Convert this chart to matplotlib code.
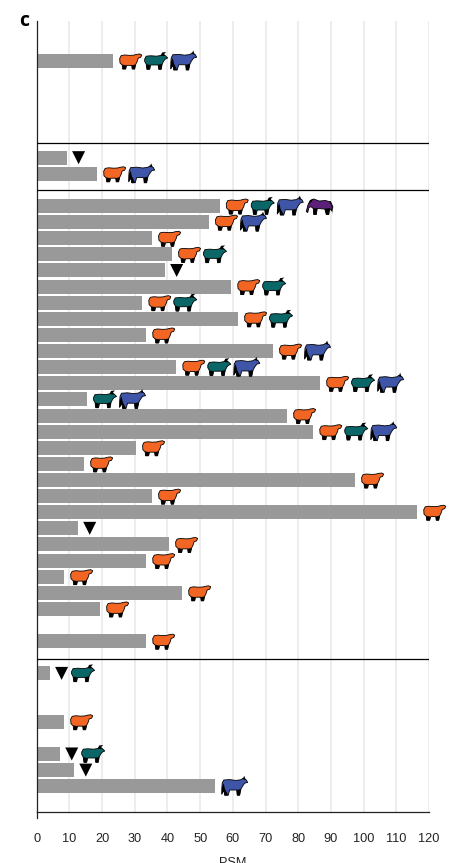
#!/usr/bin/env python3
import matplotlib
matplotlib.use("Agg")
import matplotlib.pyplot as plt
from matplotlib.patches import PathPatch
from matplotlib.path import Path
from matplotlib.transforms import Affine2D, ScaledTranslation

plt.rcParams['font.family'] = ['Liberation Sans', 'DejaVu Sans']

# row number on the y axis, PSM count, species found (S sheep, G goat, C cow, H horse, v = none)
rows = [0, 6, 7, 9, 10, 11, 12, 13, 14, 15, 16, 17, 18, 19, 20, 21, 22, 23,
        24, 25, 26, 27, 28, 29, 30, 31, 32, 33, 34, 36, 38, 41, 43, 44, 45]
psm = [23.4, 9.3, 18.5, 56, 52.7, 35.3, 41.4, 39.3, 59.5, 32.3, 61.6, 33.5,
       72.3, 42.7, 86.7, 15.4, 76.6, 84.6, 30.4, 14.5, 97.4, 35.3, 116.4,
       12.7, 40.5, 33.5, 8.4, 44.5, 19.4, 33.5, 4.1, 8.4, 7.2, 11.5, 54.6]
species = ["SGC", "v", "SC", "SGCH", "SC", "S", "SG", "v", "SG", "SG", "SG", "S",
           "SC", "SGC", "SGC", "GC", "S", "SGC", "S", "S", "S", "S", "S",
           "v", "S", "S", "S", "S", "S", "S", "vG", "S", "vG", "v", "C"]
# bars in these rows start a little right of the axis line
inset_rows = [7, 10, 11, 12, 13, 16, 19, 20, 21, 22, 23, 24, 27, 29, 30, 43, 44]
separators = [5.1, 8, 37.1]
x_ticks = list(range(0, 130, 10))

colors = {'S': '#f26522', 'G': '#0b6767', 'C': '#3f55a8', 'H': '#5c2078'}

# silhouettes in pixels, origin at the left middle of the icon, (body, dark legs)
sheep_body = [(0, 2.5), (1.5, 5.4), (5, 6), (10, 5.6), (14, 5.8), (17, 6.6), (20, 7), (22, 6),
              (21, 3.6), (18.5, 2.8), (17.5, -0.5), (16, -3.5), (15, -8), (12.5, -8),
              (12, -4.4), (7, -4.4), (6, -8), (3, -8), (2.5, -4), (0.3, -2)]
sheep_legs = [[(2.5, -3.6), (6.6, -4.4), (6, -8.3), (3, -8.3)],
              [(12, -4.4), (16, -3.4), (15, -8.3), (12.5, -8.3)]]
goat_body = [(0, 2), (1.5, 4.8), (6, 5.2), (12, 4.8), (15.5, 5.4), (18, 6.4), (20.5, 5.4),
             (23, 3), (20.5, 1.8), (19, 0), (17.5, -3), (16.5, -8.3), (14, -8.3),
             (13.5, -4), (6, -4), (5, -8.3), (2.2, -8.3), (1.5, -3.2), (0, -0.5)]
goat_legs = [[(1.6, -3.2), (5.4, -4), (5, -8.6), (2.2, -8.6)],
             [(13.5, -3.8), (17.5, -2.8), (16.5, -8.6), (14, -8.6)],
             [(16, 5.5), (17.5, 8.5), (21.5, 9), (19.5, 7), (20.5, 5), (18, 5)]]
cow_body = [(0.5, 3), (2, 6.2), (8, 6.6), (14, 5.8), (19, 6.4), (21.5, 8), (24.5, 6.4),
            (26, 3.8), (23, 3), (20.8, 0), (19.2, -3), (18, -9), (15.5, -9),
            (15, -3.8), (8, -3.8), (6.5, -9), (3, -9), (2.5, -4), (0, -8), (0.2, -1)]
cow_legs = [[(0, -8), (0.3, -1), (2, 3), (3.2, -2.5), (6.6, -9.2), (2.8, -9.2), (2.4, -4.5)],
            [(15, -3.8), (19.3, -2.8), (18, -9.2), (15.5, -9.2)],
            [(21, 7), (22.5, 10.5), (24, 6.5)]]
horse_body = [(0, -5.5), (1.5, 0.5), (4, 5.5), (7.5, 7), (13, 5), (19, 5.5), (23, 4.5), (25.5, 0.5),
              (25.5, -5), (23.5, -2.5), (22.5, -8.5), (20, -8.5), (18.5, -3),
              (11, -2.5), (10, -8.5), (7.5, -8.5), (7, -2.5), (4.5, -0.5), (2.5, -2), (1.5, -6.5)]
horse_legs = [[(7.5, -8.8), (10, -8.8), (11, -2.3), (7, -2.3)],
              [(20, -8.8), (22.5, -8.8), (23.5, -2), (18.5, -2.8)],
              [(26, -8), (25.8, 0.5), (23, 4.8), (24.5, 5), (27, -0.5)],
              [(1.5, 1), (4, 5.8), (7.5, 7.5), (5, 4)]]
silhouettes = {'S': (sheep_body, sheep_legs, 22), 'G': (goat_body, goat_legs, 23),
               'C': (cow_body, cow_legs, 26), 'H': (horse_body, horse_legs, 26)}
triangle = [(-6.5, 6.5), (6.5, 6.5), (0, -6.5)]


def closed_path(points):
    return Path(points + [points[0]], closed=True)


def place(ax, points, x, y, px_offset, **style):
    """Draw a shape given in pixels at a data position plus a pixel shift"""
    trans = (Affine2D().translate(px_offset, 0).scale(1 / fig.dpi)
             + fig.dpi_scale_trans + ScaledTranslation(x, y, ax.transData))
    ax.add_patch(PathPatch(closed_path(points), transform=trans, clip_on=False, **style))


fig = plt.figure(figsize=(4.57, 8.63), dpi=100)
ax = fig.add_axes([36.7 / 457, 1 - 812 / 863, (429 - 36.7) / 457, (812 - 21) / 863])
ax.set_xlim(0, 120)
ax.set_ylim(46.6, -2.48)

ax.set_xticks(x_ticks)
ax.set_yticks([])
ax.tick_params(axis='x', length=0, pad=15, labelsize=9.2, labelcolor='#222222')
ax.grid(axis='x', color='#e8e8e8', linewidth=1.1, zorder=0)
ax.set_axisbelow(True)
ax.set_xlabel('PSM', fontsize=9.2, labelpad=9, color='#222222')

for side in ['top', 'right']:
    ax.spines[side].set_visible(False)
for side in ['left', 'bottom']:
    ax.spines[side].set_linewidth(0.9)
    ax.spines[side].set_color('#222222')
ax.plot([0, 0], [46.6, 47], color='#222222', lw=0.9, clip_on=False)

for sep in separators:
    ax.axhline(sep, color='black', linewidth=0.9, zorder=4)

for row, value, found in zip(rows, psm, species):
    start = 0.45 if row in inset_rows else 0.1
    ax.barh(row, value - start, left=start, height=0.87, color='#999999', zorder=2)
    shift = 6.5
    for kind in found:
        if kind == 'v':
            place(ax, triangle, value, row, shift + 5, facecolor='black',
                  edgecolor='none', zorder=5)
            shift += 15
            continue
        body, legs, width = silhouettes[kind]
        place(ax, body, value, row, shift, facecolor=colors[kind],
              edgecolor='black', linewidth=0.6, joinstyle='round', zorder=5)
        for leg in legs:
            place(ax, leg, value, row, shift, facecolor='black',
                  edgecolor='none', zorder=6)
        shift += width + 3

fig.text(19 / 457, 1 - 21 / 863, 'c', fontsize=14, fontweight='bold',
         family=['Open Sans', 'DejaVu Sans'], va='center', ha='left')

fig.savefig('out.png', dpi=100)
